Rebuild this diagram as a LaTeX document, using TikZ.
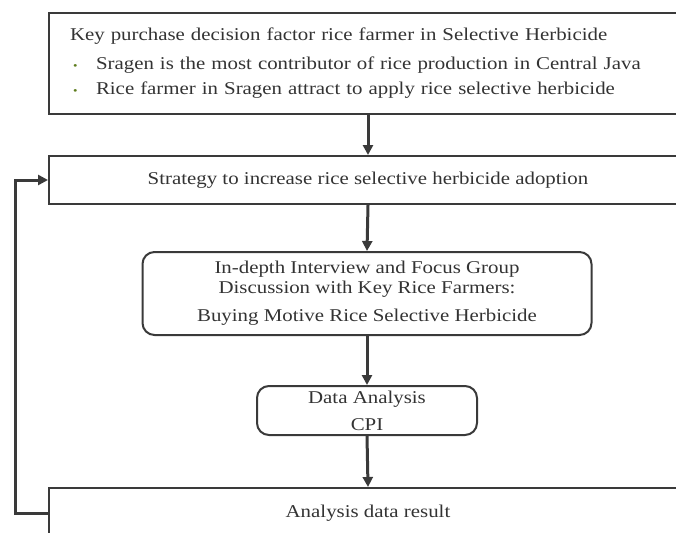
\documentclass[tikz,border=0pt]{standalone}
\usepackage{fontspec}
\setmainfont[FakeStretch=1.16]{Liberation Serif}
\usetikzlibrary{arrows.meta,positioning}
\definecolor{linegray}{HTML}{3A3A3A}
\definecolor{textgray}{HTML}{333333}
\definecolor{bulletgreen}{HTML}{5E7D1E}
\newcommand{\greenbullet}{\makebox[24pt][l]{\hspace*{1pt}\textcolor{bulletgreen}{\fontsize{11}{11}\selectfont\textbullet}}}

\begin{document}
\begin{tikzpicture}[x=1pt,y=-1pt,
  font=\fontsize{18}{20}\selectfont,text=textgray,
  box/.style={draw=linegray,line width=2pt,rectangle,inner sep=0pt},
  roundbox/.style={draw=linegray,line width=2pt,rounded corners=12pt,align=center,inner sep=0pt},
  flow/.style={-{Triangle[length=10pt,width=10pt]},line width=3pt,draw=linegray}]
\clip (0,0) rectangle (676,532);
% boxes
\node[box,anchor=north west,minimum width=638pt,minimum height=101pt,
      text width=596pt,inner xsep=21pt,align=left] (factor) at (48,12)
  {Key purchase decision factor rice farmer in Selective Herbicide\\[9pt]
   \hspace*{2pt}\greenbullet Sragen is the most contributor of rice production in Central Java\\[5pt]
   \hspace*{2pt}\greenbullet Rice farmer in Sragen attract to apply rice selective herbicide};
\node[box,anchor=north west,minimum width=638pt,minimum height=48pt] (strategy) at (48,155)
  {Strategy to increase rice selective herbicide adoption};
\node[roundbox,minimum width=449pt,minimum height=83pt] (interview) at (367,293.5)
  {In-depth Interview and Focus Group\\Discussion with Key Rice Farmers:\\[8pt]
   Buying Motive Rice Selective Herbicide};
\node[roundbox,minimum width=220pt,minimum height=49pt] (analysis) at (367,410.5)
  {Data Analysis\\[7pt]CPI};
\node[box,anchor=north west,minimum width=638pt,minimum height=50pt] (result) at (48,487)
  {Analysis data result};
% arrows
\draw[flow] (factor.south) -- (strategy.north);
\draw[flow] (strategy.south) -- (interview.north);
\draw[flow] (interview.south) -- (analysis.north);
\draw[flow] (analysis.south) -- (result.north);
\draw[flow] (result.west) -- ++(-33,0) |- (strategy.west);
\end{tikzpicture}
\end{document}
